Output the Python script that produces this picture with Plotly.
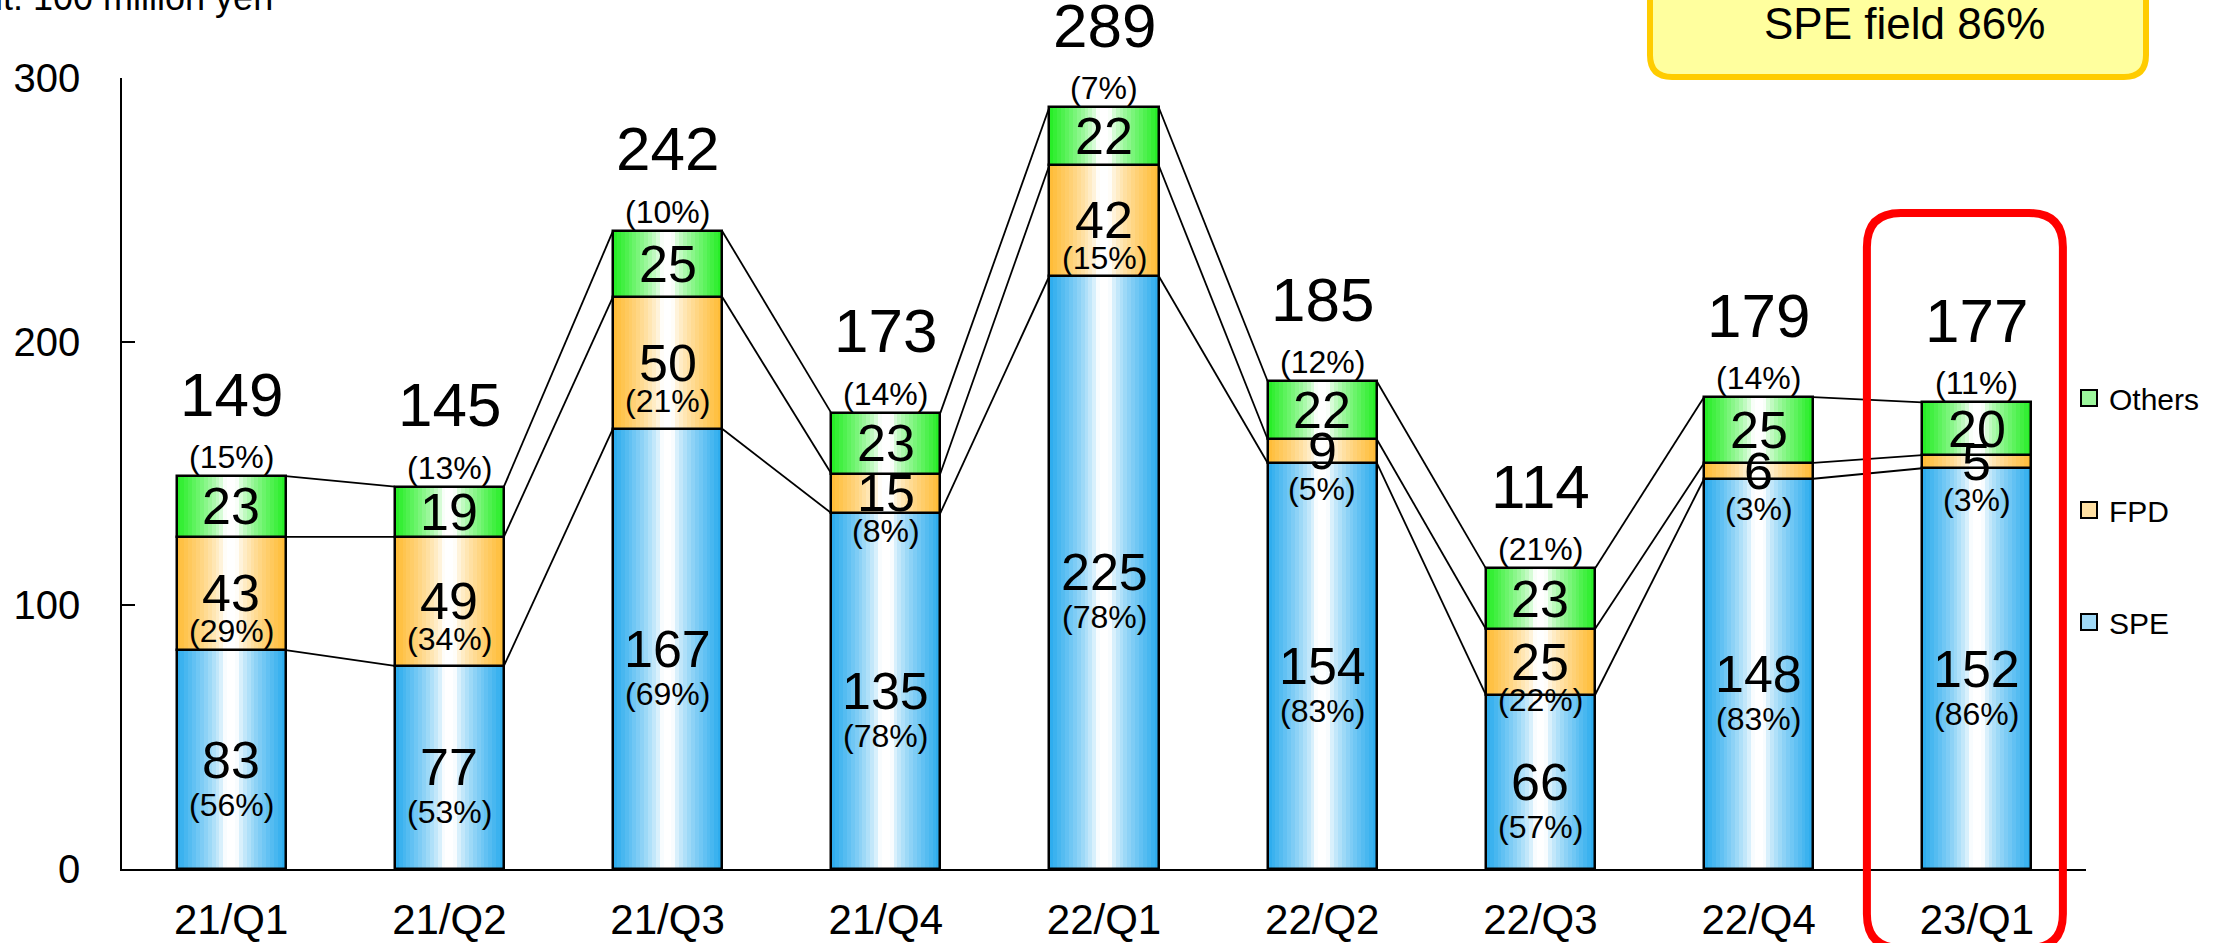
import plotly.graph_objects as go
import numpy as np

# ---------------- data ----------------
categories = ["21/Q1", "21/Q2", "21/Q3", "21/Q4", "22/Q1", "22/Q2", "22/Q3", "22/Q4", "23/Q1"]
spe = [83, 77, 167, 135, 225, 154, 66, 148, 152]
fpd = [43, 49, 50, 15, 42, 9, 25, 6, 5]
others = [23, 19, 25, 23, 22, 22, 23, 25, 20]
totals = [149, 145, 242, 173, 289, 185, 114, 179, 177]
spe_pct = [56, 53, 69, 78, 78, 83, 57, 83, 86]
fpd_pct = [29, 34, 21, 8, 15, 5, 22, 3, 3]
others_pct = [15, 13, 10, 14, 7, 12, 21, 14, 11]
y_ticks = [0, 100, 200, 300]
unit_label = "Unit: 100 million yen"
callout_text = "SPE field 86%"
highlight = "23/Q1"

# ---------------- layout constants ----------------
W, H = 2233, 943
L, R, T, B = 122, 147, 78, 74
PW, PH = W - L - R, H - T - B
FONT = "Liberation Sans, Arial, sans-serif"
BW = 0.5
N = 28

pos = list(range(len(categories)))
fpd_base = spe
oth_base = [a + b for a, b in zip(spe, fpd)]

series = [
    ("SPE", spe, [0] * len(spe), (41, 171, 238)),
    ("FPD", fpd, fpd_base, (255, 187, 51)),
    ("Others", others, oth_base, (34, 238, 34)),
]

fig = go.Figure()

# connector lines between bars
levels = [spe, oth_base, totals]
for lev in levels:
    xs, ys = [], []
    for i in range(len(pos) - 1):
        xs += [pos[i] + BW / 2, pos[i + 1] - BW / 2, None]
        ys += [lev[i], lev[i + 1], None]
    fig.add_trace(go.Scatter(x=xs, y=ys, mode="lines", line=dict(color="black", width=1.8),
                             showlegend=False, hoverinfo="skip"))


def mix(c, f):
    return "rgb(%d,%d,%d)" % tuple(round(255 + (ci - 255) * f) for ci in c)


# gradient strips
for name, vals, base, col in series:
    for k in range(N):
        u = (k + 0.5) / N
        d = abs(u - 0.5) * 2
        f = float(np.clip((d - 0.1) / 0.9, 0, 1)) ** 0.7
        fig.add_trace(go.Bar(
            x=pos, y=vals, base=base,
            width=BW / N + 0.004, offset=-BW / 2 + k * BW / N,
            marker=dict(color=mix(col, f), line=dict(width=0)),
            showlegend=False, hoverinfo="skip"))
    # outline
    fig.add_trace(go.Bar(
        x=pos, y=vals, base=base, width=BW, offset=-BW / 2,
        marker=dict(color="rgba(0,0,0,0)", line=dict(color="black", width=2.5)),
        showlegend=False, hoverinfo="skip"))

# legend entries
for rank, (name, vals, base, col) in zip([3, 2, 1], series):
    fig.add_trace(go.Scatter(
        x=[None], y=[None], mode="markers", name=name, legendgroup=name, legendrank=rank,
        marker=dict(symbol="square", size=16, color=mix(col, 0.45), line=dict(color="black", width=2))))

ann = []


def A(x, y, text, size, yshift=0, **kw):
    d = dict(x=x, y=y, text=text, showarrow=False, yshift=yshift,
             font=dict(family=FONT, size=size, color="black"), xanchor="center", yanchor="middle")
    d.update(kw)
    ann.append(d)


for i in pos:
    A(i, totals[i], str(totals[i]), 62, 82)
    A(i, totals[i], "(%d%%)" % others_pct[i], 32, 19)
    A(i, oth_base[i] + others[i] / 2, str(others[i]), 52, 0)
    A(i, spe[i] + fpd[i] / 2, str(fpd[i]), 52, 0)
    A(i, spe[i] + fpd[i] / 2, "(%d%%)" % fpd_pct[i], 32, -38)
    A(i, spe[i] / 2, str(spe[i]), 52, 0)
    A(i, spe[i] / 2, "(%d%%)" % spe_pct[i], 32, -45)


def px2p(px, py):
    return ((px - L) / PW, (H - B - py) / PH)


# unit label (partly outside the canvas)
ux, uy = px2p(275, -3)
A(ux, uy, unit_label, 36, 0, xref="paper", yref="paper", xanchor="right")
cx, cy = px2p(1904, 23)
A(cx, cy, callout_text, 44, 0, xref="paper", yref="paper")


def rrect(x0, y0, x1, y1, r):
    pts = [("M", [(x0 + r, y0)]), ("L", [(x1 - r, y0)]), ("Q", [(x1, y0), (x1, y0 + r)]),
           ("L", [(x1, y1 - r)]), ("Q", [(x1, y1), (x1 - r, y1)]), ("L", [(x0 + r, y1)]),
           ("Q", [(x0, y1), (x0, y1 - r)]), ("L", [(x0, y0 + r)]), ("Q", [(x0, y0), (x0 + r, y0)])]
    s = ""
    for cmd, ps in pts:
        s += cmd + " " + " ".join("%.5f,%.5f" % px2p(px, py) for px, py in ps) + " "
    return s + "Z"


hi = categories.index(highlight)
hx = L + (hi + 0.5) * PW / len(categories)
shapes = [
    dict(type="path", xref="paper", yref="paper", path=rrect(1650, -40, 2146, 77, 22),
         fillcolor="#FFFF9E", line=dict(color="#FFCC00", width=6), layer="above"),
    dict(type="path", xref="paper", yref="paper", path=rrect(hx - 110, 213, hx + 86, 948, 34),
         fillcolor="rgba(0,0,0,0)", line=dict(color="#FF0000", width=8), layer="above"),
]

fig.update_layout(
    width=W, height=H, margin=dict(l=L, r=R, t=T, b=B, pad=0, autoexpand=False),
    paper_bgcolor="white", plot_bgcolor="white",
    barmode="overlay", bargap=0,
    font=dict(family=FONT, color="black"),
    annotations=ann, shapes=shapes,
    legend=dict(x=(2069 - L) / PW, xanchor="left", y=(H - B - 510) / PH, yanchor="middle",
                font=dict(family=FONT, size=30, color="black"), tracegroupgap=70,
                itemwidth=30, bgcolor="rgba(0,0,0,0)"),
    xaxis=dict(range=[-0.5, len(categories) - 0.5], tickvals=pos, ticktext=categories,
               showline=True, linecolor="black", linewidth=1.5, ticks="", showgrid=False,
               zeroline=False, tickfont=dict(family=FONT, size=42, color="black"),
               ticklabelstandoff=13, automargin=False),
    yaxis=dict(range=[0, 300], tickvals=y_ticks, showline=True, linecolor="black", linewidth=1.5,
               ticks="inside", ticklen=13, tickwidth=1.5, tickcolor="black", showgrid=False,
               zeroline=False, tickfont=dict(family=FONT, size=40, color="black"),
               ticklabelstandoff=32, automargin=False),
)

fig.write_html("out.html")
